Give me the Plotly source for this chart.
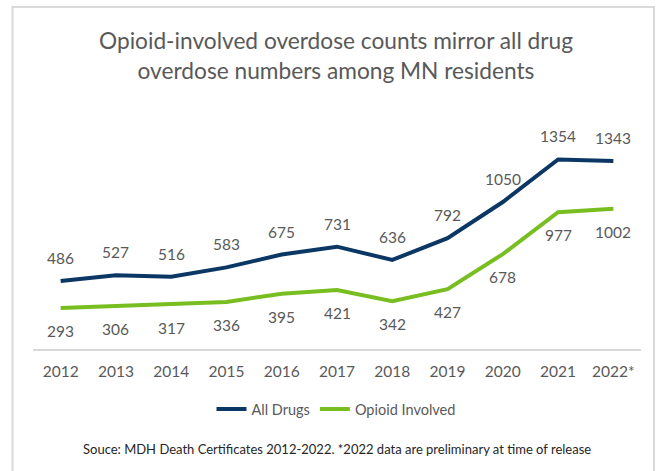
import plotly.graph_objects as go

years = ["2012", "2013", "2014", "2015", "2016", "2017", "2018", "2019", "2020", "2021", "2022*"]
all_drugs = [486, 527, 516, 583, 675, 731, 636, 792, 1050, 1354, 1343]
opioid = [293, 306, 317, 336, 395, 421, 342, 427, 678, 977, 1002]

NAVY = "#0B3764"
GREEN = "#78BE21"
GRAY = "#595959"
FONT = "Lato"

W, H = 657, 471
ML, MR, MT, MB = 33, 16, 125, 122
PW = W - ML - MR
PH = H - MT - MB

def py(px):
    return (H - MB - px) / PH

def pxx(px):
    return (px - ML) / PW

fig = go.Figure()
fig.add_trace(go.Scatter(x=years, y=all_drugs, mode="lines", name="All Drugs",
                         line=dict(color=NAVY, width=4)))
fig.add_trace(go.Scatter(x=years, y=opioid, mode="lines", name="Opioid Involved",
                         line=dict(color=GREEN, width=4)))

annotations = []
for i, v in enumerate(all_drugs):
    annotations.append(dict(x=i, y=v, xref="x", yref="y", text=str(v), showarrow=False, yshift=23,
                            font=dict(family=FONT, size=15.5, color=GRAY)))
for i, v in enumerate(opioid):
    annotations.append(dict(x=i, y=v, xref="x", yref="y", text=str(v), showarrow=False, yshift=-23,
                            font=dict(family=FONT, size=15.5, color=GRAY)))
annotations.append(dict(xref="paper", yref="paper", x=pxx(337), y=py(449),
                        text="Souce: MDH Death Certificates 2012-2022. *2022 data are preliminary at time of release",
                        showarrow=False, xanchor="center", yanchor="middle",
                        font=dict(family=FONT, size=13, color="#262626")))

fig.update_layout(
    width=W, height=H,
    margin=dict(l=ML, r=MR, t=MT, b=MB),
    paper_bgcolor="white", plot_bgcolor="white",
    title=dict(text="Opioid-involved overdose counts mirror all drug<br>overdose numbers among MN residents",
               x=pxx(336), xref="paper", xanchor="center",
               y=1 - 49 / H, yref="container", yanchor="middle",
               font=dict(family=FONT, size=22.7, color=GRAY)),
    xaxis=dict(showgrid=False, showline=True, linecolor="#D9D9D9", linewidth=1.5,
               ticks="", tickfont=dict(family=FONT, size=15.5, color=GRAY),
               ticklabelstandoff=8, range=[-0.5, 10.5], fixedrange=True, automargin=False),
    yaxis=dict(range=[0, 1600], visible=False, showgrid=False, zeroline=False, automargin=False),
    showlegend=True,
    legend=dict(orientation="h", x=pxx(336), xanchor="center", y=py(409), yanchor="middle",
                font=dict(family=FONT, size=14.5, color=GRAY), itemwidth=30),
    annotations=annotations,
    shapes=[dict(type="rect", xref="paper", yref="paper",
                 x0=pxx(12.5), x1=pxx(654), y0=py(480), y1=py(7),
                 line=dict(color="#D9D9D9", width=2), fillcolor="rgba(0,0,0,0)", layer="below")],
)

fig.write_html("out.html", config={"displayModeBar": False},
               post_script="document.body.style.margin='0';document.body.style.overflow='hidden';")
